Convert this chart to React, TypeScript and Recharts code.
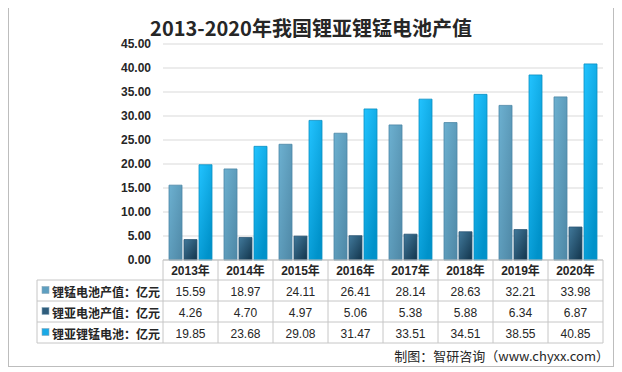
import React from 'react';
import { BarChart, Bar, XAxis, YAxis, CartesianGrid } from 'recharts';

const years = ['2013年', '2014年', '2015年', '2016年', '2017年', '2018年', '2019年', '2020年'];
const limnValues = [15.59, 18.97, 24.11, 26.41, 28.14, 28.63, 32.21, 33.98];
const lisoValues = [4.26, 4.7, 4.97, 5.06, 5.38, 5.88, 6.34, 6.87];
const totalValues = [19.85, 23.68, 29.08, 31.47, 33.51, 34.51, 38.55, 40.85];
const seriesNames = ['锂锰电池产值：亿元', '锂亚电池产值：亿元', '锂亚锂锰电池：亿元'];
const yTicks = [0, 5, 10, 15, 20, 25, 30, 35, 40, 45];

const data = years.map((year, i) => ({
  year,
  limn: limnValues[i],
  liso: lisoValues[i],
  total: totalValues[i],
}));

const W = 604;
const H = 361;
const PLOT_LEFT = 154;
const PLOT_RIGHT = 594;
const PLOT_TOP = 39;
const PLOT_BOTTOM = 255;
const BAND = (PLOT_RIGHT - PLOT_LEFT) / years.length;
const TABLE_LEFT = 28;
const ROW_LINES = [275, 296, 317, 338];
const LINE_COLOR = '#c6c6c6';
const NUM_FONT = "'Liberation Sans Narrow', 'Liberation Sans', sans-serif";
const CJK_FONT = "'Noto Sans CJK SC', sans-serif";
const legendColors = ['#5e9fc0', '#2f5d7c', '#1aa9e6'];
const rowValues = [limnValues, lisoValues, totalValues];

const TableTick = (props: any) => {
  const { x, payload } = props;
  const i = years.indexOf(payload.value);
  const half = BAND / 2;
  const headerCenter = (PLOT_BOTTOM + ROW_LINES[0]) / 2 + 1;
  return (
    <g>
      {i === 0 && (
        <g>
          {ROW_LINES.map((ly) => (
            <line key={ly} x1={TABLE_LEFT} x2={PLOT_RIGHT} y1={ly} y2={ly} stroke={LINE_COLOR} strokeWidth={1} />
          ))}
          <line x1={TABLE_LEFT} x2={TABLE_LEFT} y1={ROW_LINES[0]} y2={ROW_LINES[3]} stroke={LINE_COLOR} strokeWidth={1} />
          {seriesNames.map((name, r) => {
            const cy = (ROW_LINES[r] + ROW_LINES[r + 1]) / 2;
            return (
              <g key={name}>
                <rect x={TABLE_LEFT + 5} y={cy - 4} width={7} height={7} fill={legendColors[r]} stroke="#8aa9bb" strokeWidth={0.6} />
                <text
                  x={TABLE_LEFT + 15}
                  y={cy + 1}
                  dominantBaseline="central"
                  fontFamily={CJK_FONT}
                  fontSize={12}
                  fontWeight="bold"
                  fill="#262626"
                >
                  {name}
                </text>
              </g>
            );
          })}
        </g>
      )}
      <line x1={x - half} x2={x - half} y1={PLOT_BOTTOM} y2={ROW_LINES[3]} stroke={LINE_COLOR} strokeWidth={1} />
      {i === years.length - 1 && (
        <line x1={x + half} x2={x + half} y1={PLOT_BOTTOM} y2={ROW_LINES[3]} stroke={LINE_COLOR} strokeWidth={1} />
      )}
      <text
        x={x}
        y={headerCenter}
        textAnchor="middle"
        dominantBaseline="central"
        fontFamily={NUM_FONT + ', ' + CJK_FONT}
        fontSize={12}
        fontWeight="bold"
        fill="#262626"
      >
        {payload.value}
      </text>
      {rowValues.map((vals, r) => {
        const cy = (ROW_LINES[r] + ROW_LINES[r + 1]) / 2 + 1;
        return (
          <text
            key={r}
            x={x}
            y={cy}
            textAnchor="middle"
            dominantBaseline="central"
            fontFamily={NUM_FONT}
            fontSize={12}
            fill="#262626"
          >
            {vals[i].toFixed(2)}
          </text>
        );
      })}
    </g>
  );
};

export default function App() {
  return (
    <div
      style={{
        position: 'relative',
        width: 606,
        height: 363,
        marginTop: -4,
        border: '1px solid #bdbdbd',
        boxSizing: 'border-box',
        background: '#ffffff',
      }}
    >
      <div
        style={{
          position: 'absolute',
          left: 0,
          width: W,
          top: 10,
          textAlign: 'center',
          fontFamily: CJK_FONT,
          fontWeight: 'bold',
          fontSize: 20,
          color: '#262626',
          lineHeight: '26px',
          paddingLeft: 0,
        }}
      >
        <span style={{ position: 'relative', left: 0 }}>2013-2020年我国锂亚锂锰电池产值</span>
      </div>
      <BarChart
        width={W}
        height={H}
        data={data}
        margin={{ top: PLOT_TOP, right: W - PLOT_RIGHT, left: 0, bottom: 0 }}
        barSize={13}
        barGap={2}
      >
        <defs>
          <linearGradient id="gA" x1="0" y1="0" x2="1" y2="1">
            <stop offset="0%" stopColor="#6cb0d0" />
            <stop offset="100%" stopColor="#4f88a6" />
          </linearGradient>
          <linearGradient id="gB" x1="0" y1="0" x2="1" y2="1">
            <stop offset="0%" stopColor="#41799b" />
            <stop offset="100%" stopColor="#12344b" />
          </linearGradient>
          <linearGradient id="gC" x1="0" y1="0" x2="0.6" y2="1">
            <stop offset="0%" stopColor="#22c3ff" />
            <stop offset="100%" stopColor="#0092ca" />
          </linearGradient>
        </defs>
        <CartesianGrid vertical={false} stroke="#d9d9d9" />
        <XAxis
          dataKey="year"
          height={H - PLOT_TOP - (PLOT_BOTTOM - PLOT_TOP) - 0}
          interval={0}
          tickLine={false}
          axisLine={{ stroke: '#bfbfbf' }}
          tick={<TableTick />}
        />
        <YAxis
          width={PLOT_LEFT}
          domain={[0, 45]}
          ticks={yTicks}
          interval={0}
          axisLine={false}
          tickLine={false}
          tickSize={0}
          tickMargin={12}
          tickFormatter={(v: number) => v.toFixed(2)}
          tick={{ fontFamily: NUM_FONT, fontSize: 12, fill: '#262626', fontWeight: 'bold' }}
        />
        <Bar dataKey="limn" fill="url(#gA)" stroke="#4b87a6" strokeWidth={0.8} isAnimationActive={false} />
        <Bar dataKey="liso" fill="url(#gB)" stroke="#2a5675" strokeWidth={0.8} isAnimationActive={false} />
        <Bar dataKey="total" fill="url(#gC)" stroke="#0b8fc2" strokeWidth={0.8} isAnimationActive={false} />
      </BarChart>
      <div
        style={{
          position: 'absolute',
          right: 4,
          top: 342,
          fontFamily: CJK_FONT,
          fontSize: 13,
          color: '#262626',
          lineHeight: '18px',
          whiteSpace: 'nowrap',
        }}
      >
        制图：智研咨询（www.chyxx.com）
      </div>
    </div>
  );
}
